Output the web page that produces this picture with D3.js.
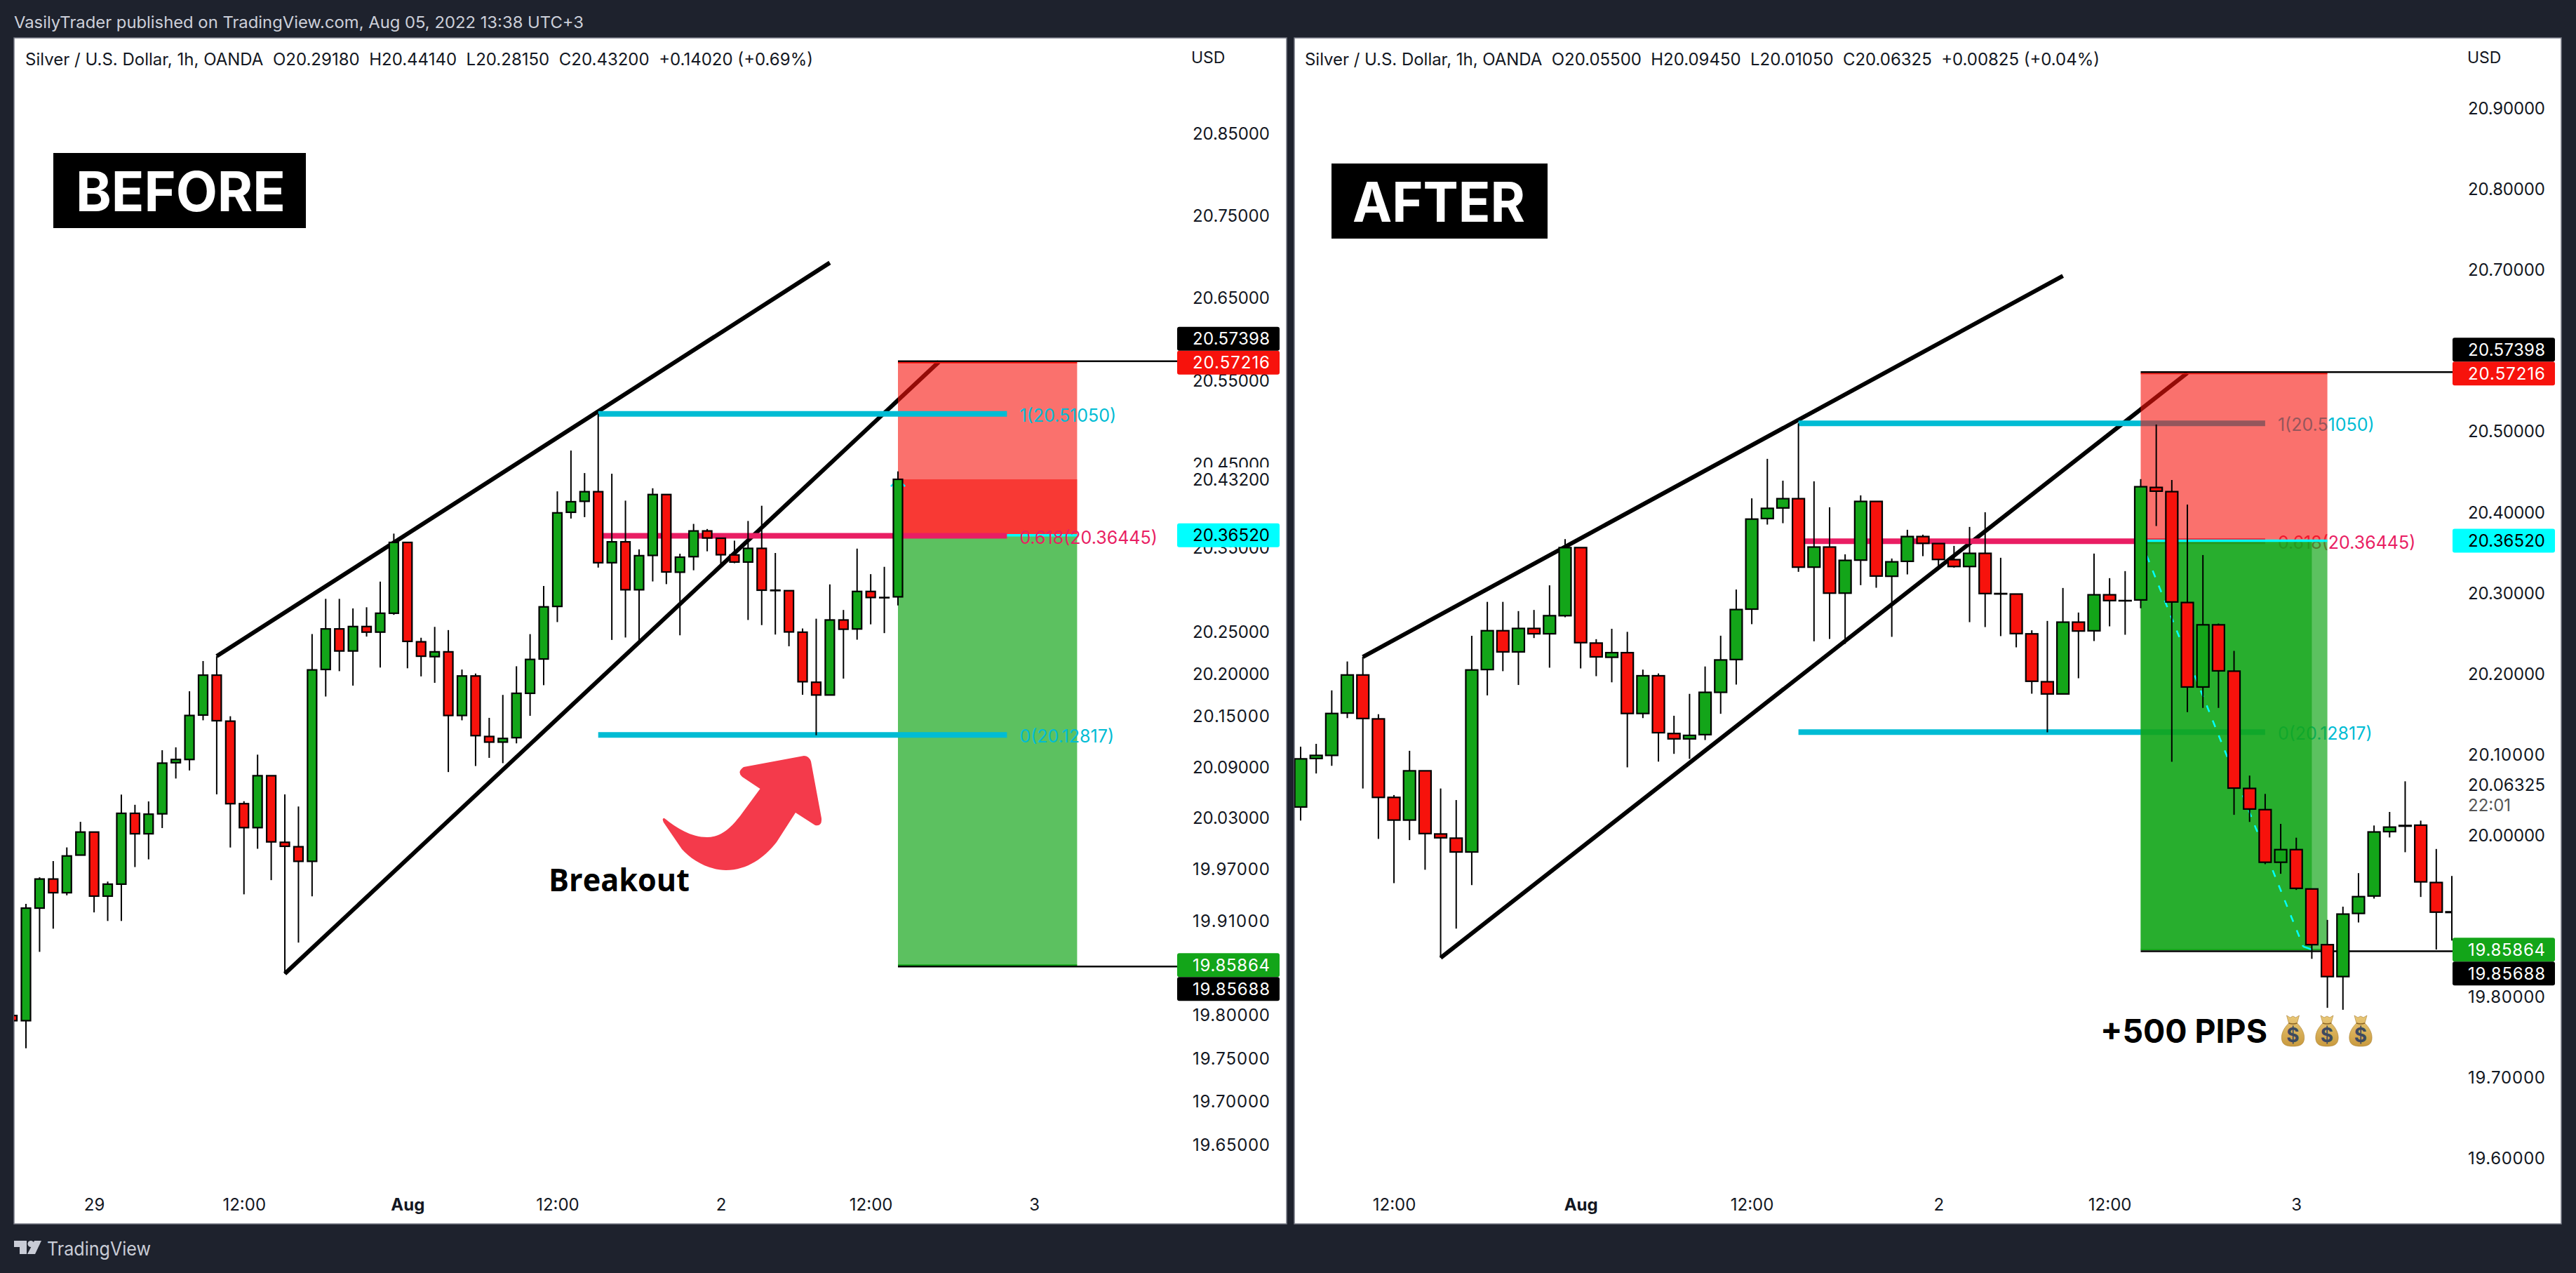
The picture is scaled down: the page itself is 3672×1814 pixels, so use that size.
<!DOCTYPE html>
<html><head><meta charset="utf-8">
<script src="https://cdn.jsdelivr.net/npm/d3@7/dist/d3.min.js"></script>
<style>
html,body{margin:0;padding:0;background:#1e222d}
svg{display:block}
text{font-family:Inter,Roboto,sans-serif}
</style></head><body><div id="chart"></div>
<script>
const firstBar = -1;
const opens = [19.80,
19.794,19.925,19.959,19.943,19.987,20.014,19.939,19.953,20.036,20.012,
20.0354,20.0955,20.0993,20.1517,20.1989,20.1445,20.0473,20.0192,20.0802,20.0020,
19.9968,19.9797,20.2056,20.2537,20.2275,20.2565,20.2499,20.2723,20.3566,20.2384,
20.2208,20.2265,20.1512,20.1979,20.1264,20.1198,20.1250,20.1774,20.2180,20.2804,
20.3926,20.4057,20.4172,20.3324,20.3573,20.3002,20.3411,20.4138,20.3211,20.3396,
20.3703,20.3616,20.3417,20.3332,20.3495,20.2997,20.2991,20.2498,20.1905,20.1754,
20.2643,20.2536,20.2982,20.2910,20.2918,20.4311,20.4259,20.2886,20.1840,20.2610,
20.2036,20.0584,20.0321,19.9670,19.9826,19.9339,19.8649,19.8254,19.9036,19.9252,
20.0049,20.0125,20.0129,19.9419,19.9056];
const closes = [19.794,
19.925,19.959,19.943,19.986,20.014,19.939,19.953,20.036,20.012,20.035,
20.0950,20.0993,20.1512,20.1989,20.1450,20.0473,20.0192,20.0802,20.0025,19.9973,
19.9797,20.2051,20.2537,20.2275,20.2565,20.2499,20.2723,20.3566,20.2389,20.2213,
20.2265,20.1512,20.1979,20.1274,20.1198,20.1241,20.1774,20.2175,20.2799,20.3919,
20.4052,20.4172,20.3324,20.3573,20.3002,20.3408,20.4138,20.3214,20.3390,20.3703,
20.3619,20.3419,20.3332,20.3495,20.2997,20.2992,20.2501,20.1911,20.1754,20.2643,
20.2533,20.2982,20.2910,20.2907,20.4320,20.4265,20.2893,20.1840,20.2610,20.2040,
20.0588,20.0329,19.9670,19.9826,19.9347,19.8649,19.8254,19.9028,19.9244,20.0045,
20.0105,20.0117,19.9427,19.9052,19.9048];
const highs = [19.802,
19.930,19.961,19.980,19.996,20.026,20.014,19.956,20.058,20.046,20.050,
20.1102,20.1136,20.1798,20.2156,20.2213,20.1503,20.0502,20.1050,20.0802,20.0583,
20.0440,20.2475,20.2894,20.2894,20.2780,20.2794,20.3099,20.3671,20.3566,20.2432,
20.2561,20.2523,20.2055,20.2008,20.1484,20.1755,20.2094,20.2475,20.3047,20.4176,
20.4665,20.4395,20.5105,20.4387,20.4065,20.3483,20.4213,20.4138,20.3431,20.3787,
20.3726,20.3616,20.3587,20.3822,20.4004,20.3440,20.2991,20.2542,20.2658,20.3066,
20.2762,20.3492,20.3188,20.3275,20.4414,20.5090,20.4404,20.4100,20.3474,20.2626,
20.2287,20.0743,20.0516,20.0145,19.9974,19.9339,19.8956,19.9120,19.9535,20.0125,
20.0293,20.0672,20.0185,19.9834,19.9499];
const lows = [19.79,
19.762,19.874,19.901,19.940,19.987,19.920,19.910,19.910,19.973,19.982,
20.0187,20.0769,20.0864,20.1455,20.0583,19.9959,19.9411,19.9944,19.9577,19.8486,
19.8848,19.9387,20.1736,20.2036,20.1865,20.2446,20.2079,20.2704,20.2070,20.1974,
20.1898,20.0845,20.1455,20.0916,20.1012,20.0950,20.1183,20.1508,20.1870,20.2618,
20.3851,20.3868,20.3266,20.2406,20.2435,20.2374,20.3101,20.3069,20.2461,20.3234,
20.3460,20.3295,20.3318,20.2643,20.2582,20.2470,20.2331,20.1757,20.1279,20.1754,
20.1948,20.2409,20.2591,20.2487,20.2815,20.3833,20.0915,20.1529,20.1581,20.1581,
20.0257,20.0169,19.9646,19.9527,19.9327,19.8474,19.7867,19.7843,19.8924,19.9220,
19.9977,19.9794,19.9240,19.8589,19.8700];

const leftPriceTicks = [20.85,20.75,20.65,20.55,20.45,20.35,20.25,20.20,20.15,20.09,20.03,19.97,19.91,19.80,19.75,19.70,19.65];
const rightPriceTicks = [20.90,20.80,20.70,20.50,20.40,20.30,20.20,20.10,20.00,19.80,19.70,19.60];
const leftTimeTicks = [5,16,28,39,51,62,74];
const leftTimeLabels = ["29","12:00","Aug","12:00","2","12:00","3"];
const rightTimeTicks = [16,28,39,51,62,74];
const rightTimeLabels = ["12:00","Aug","12:00","2","12:00","3"];

const fibLevels = [20.51050,20.36445,20.12817];
const fibLabels = ["1(20.51050)","0.618(20.36445)","0(20.12817)"];
const fibColors = ["#00bcd4","#e91e63","#00bcd4"];
const fibStartBar = 42, fibEndBar = 72;
const upperTrendBars = [14,59], upperTrendPrices = [20.2213,20.693];
const lowerTrendBars = [19,67], lowerTrendPrices = [19.8486,20.573];
const entryBar = 64, entryPrice = 20.3652, stopPrice = 20.57216, targetPrice = 19.85864;
const stopMark = 20.57398, targetMark = 19.85688, leftClose = 20.432, rightClose = 20.06325;
const leftBoxEnd = 77.15, rightBoxEnd = 76, rightFillEnd = 75;

const W=3672,H=1814;
const svg=d3.select("#chart").append("svg").attr("width",W).attr("height",H);
const bars=opens.map((o,i)=>({i:i+firstBar,o,h:highs[i],l:lows[i],c:closes[i]}));
const RED="#f7120c",GREEN="#13a519",INK="#131722";

svg.append("rect").attr("width",W).attr("height",H).attr("fill","#1e222d");
svg.append("text").attr("x",20).attr("y",40).attr("fill","#cdd0da").attr("font-size",23)
  .attr("textLength",812).attr("lengthAdjust","spacingAndGlyphs")
  .text("VasilyTrader published on TradingView.com, Aug 05, 2022 13:38 UTC+3");

function panel(cfg){
  const g=svg.append("g");
  const x=d3.scaleLinear().domain(cfg.xDomain).range(cfg.xRange);
  const y=cfg.y;
  g.append("rect").attr("x",cfg.left).attr("y",54).attr("width",cfg.right-cfg.left).attr("height",1690)
    .attr("fill","#fff").attr("stroke","#787b86").attr("stroke-width",1.5);
  const id="clip"+cfg.name;
  svg.append("clipPath").attr("id",id).append("rect").attr("x",cfg.left).attr("y",55).attr("width",cfg.plotRight-cfg.left).attr("height",1688);
  const plot=g.append("g").attr("clip-path",`url(#${id})`);

  const seg=(bs,ps,w)=>plot.append("line").attr("x1",x(bs[0])).attr("x2",x(bs[1])).attr("y1",y(ps[0])).attr("y2",y(ps[1]))
    .attr("stroke","#000").attr("stroke-width",w).attr("stroke-linecap","butt");
  seg(upperTrendBars,upperTrendPrices,6);
  seg(lowerTrendBars,lowerTrendPrices,6);

  const drawFib=()=>{
    plot.selectAll(null).data(fibLevels).join("line")
      .attr("x1",x(fibStartBar)).attr("x2",x(fibEndBar)).attr("y1",d=>y(d)).attr("y2",d=>y(d))
      .attr("stroke",(d,i)=>fibColors[i]).attr("stroke-width",8);
    plot.selectAll(null).data(fibLevels).join("text")
      .attr("x",x(fibEndBar)+18).attr("y",d=>y(d)+2).attr("dy","0.36em").attr("font-size",25)
      .attr("fill",(d,i)=>fibColors[i]).text((d,i)=>fibLabels[i]);
  };
  const band=(b0,b1,p0,p1,color,a)=>plot.append("rect").attr("x",x(b0)).attr("width",x(b1)-x(b0))
    .attr("y",y(p0)).attr("height",y(p1)-y(p0)).attr("fill",color).attr("fill-opacity",a);
  const drawBox=()=>{
    band(entryBar,cfg.boxEnd,stopPrice,entryPrice,RED,0.6);
    band(entryBar,cfg.boxEnd,entryPrice,targetPrice,GREEN,0.69);
    if(cfg.overlay) cfg.overlay(band);
    [stopPrice,targetPrice].forEach((p,i)=>plot.append("line").attr("x1",x(entryBar)).attr("x2",x(cfg.boxEnd))
      .attr("y1",y(p)).attr("y2",y(p)).attr("stroke",i?GREEN:RED).attr("stroke-width",2));
  };
  const drawEntry=()=>plot.append("line").attr("x1",x(entryBar)).attr("x2",x(cfg.boxEnd))
      .attr("y1",y(entryPrice)).attr("y2",y(entryPrice)).attr("stroke","#00ffff").attr("stroke-width",3.5);

  if(cfg.fibFirst){drawFib();drawBox();drawEntry();}
  else{drawBox();drawEntry();drawFib();}
  if(cfg.after) cfg.after(plot,x,y);

  [stopMark,targetMark].forEach(p=>plot.append("line").attr("x1",x(entryBar)).attr("x2",cfg.plotRight)
    .attr("y1",y(p)).attr("y2",y(p)).attr("stroke","#000").attr("stroke-width",2.5));

  const c=plot.selectAll(null).data(bars.filter(d=>d.i>=cfg.xFirst&&d.i<=cfg.xLast)).join("g");
  c.append("line").attr("x1",d=>x(d.i)).attr("x2",d=>x(d.i)).attr("y1",d=>y(d.h)).attr("y2",d=>y(d.l))
    .attr("stroke","#000").attr("stroke-width",2);
  c.append("rect").attr("x",d=>x(d.i)-cfg.bw/2).attr("width",cfg.bw)
    .attr("y",d=>y(Math.max(d.o,d.c))).attr("height",d=>Math.abs(y(d.o)-y(d.c)))
    .attr("fill",d=>d.c>=d.o?GREEN:RED).attr("stroke","#000").attr("stroke-width",2.2);

  // axes
  const ay=g.append("g").attr("transform",`translate(${cfg.textRight},0)`)
    .call(d3.axisRight(y).tickValues(cfg.priceTicks).tickFormat(d3.format(".5f")).tickSize(0).tickPadding(0));
  ay.select(".domain").remove();
  ay.selectAll("text").attr("text-anchor","end").attr("font-size",24).attr("font-family","Inter").attr("fill",INK)
    .attr("textLength",110).attr("lengthAdjust","spacing");
  const ax=g.append("g").attr("transform","translate(0,1708)")
    .call(d3.axisBottom(x).tickValues(cfg.timeTicks).tickFormat((d,i)=>cfg.timeLabels[i]).tickSize(0).tickPadding(0));
  ax.select(".domain").remove();
  ax.selectAll("text").attr("font-size",24).attr("font-family","Inter").attr("fill",INK)
    .attr("font-weight",d=>d===28?700:400);

  g.append("text").attr("x",cfg.usdX).attr("y",90).attr("font-size",23).attr("fill",INK).text("USD");
  g.append("text").attr("x",cfg.legendX).attr("y",93).attr("font-size",24).attr("fill",INK)
    .attr("textLength",cfg.legendW).attr("lengthAdjust","spacing").attr("xml:space","preserve").style("white-space","pre").text(cfg.legend);

  const label=(p,text,bg,fg,cy)=>{
    const yc=cy===undefined?y(p):cy;
    g.append("rect").attr("x",cfg.textRight-132).attr("width",146).attr("y",yc-17).attr("height",34).attr("fill",bg).attr("rx",3);
    g.append("text").attr("x",cfg.textRight).attr("y",yc).attr("dy","0.36em").attr("text-anchor","end").attr("font-size",24)
      .attr("fill",fg).attr("textLength",110).text(text);
  };
  label(entryPrice,"20.36520","#00ffff","#000");
  label(stopPrice,"20.57216",RED,"#fff");
  label(stopPrice,"20.57398","#000","#fff",y(stopPrice)-34);
  label(targetPrice,"19.85864",GREEN,"#fff");
  label(targetPrice,"19.85688","#000","#fff",y(targetPrice)+34);
  if(cfg.labels) cfg.labels(g,y,label);
  return g;
}

const yLeft=d3.scaleLog().domain([19.65,20.55]).range([1632,543]);
const yRight=d3.scaleLinear().domain([19.60,20.90]).range([1651,155]);

panel({name:"L",left:20,right:1834,plotRight:1678,textRight:1810,usdX:1698,
  xDomain:[0,64],xRange:[37,1280],xFirst:-1,xLast:entryBar,y:yLeft,bw:13,boxEnd:leftBoxEnd,fibFirst:false,
  priceTicks:leftPriceTicks,timeTicks:leftTimeTicks,timeLabels:leftTimeLabels,
  legendX:36,legendW:1123,
  legend:"Silver / U.S. Dollar, 1h, OANDA  O20.29180  H20.44140  L20.28150  C20.43200  +0.14020 (+0.69%)",
  overlay:band=>band(entryBar,leftBoxEnd,leftClose,entryPrice,RED,0.58),
  after:(plot,x,y)=>{
    plot.append("polyline").attr("fill","none").attr("stroke","#00ffff").attr("stroke-width",2.5)
      .attr("points",[[entryBar-0.52,leftClose-0.0085],[entryBar,leftClose],[entryBar+0.52,leftClose-0.0085]].map(d=>[x(d[0]),y(d[1])].join(",")).join(" "));
  },
  labels:(g,y,label)=>label(leftClose,"20.43200","#fff",INK)
});

panel({name:"R",left:1845,right:3651,plotRight:3496,textRight:3628,usdX:3517,
  xDomain:[10,84],xRange:[1854,3495],xFirst:10,xLast:84,y:yRight,bw:17,boxEnd:rightBoxEnd,fibFirst:true,
  priceTicks:rightPriceTicks,timeTicks:rightTimeTicks,timeLabels:rightTimeLabels,
  legendX:1860,legendW:1133,
  legend:"Silver / U.S. Dollar, 1h, OANDA  O20.05500  H20.09450  L20.01050  C20.06325  +0.00825 (+0.04%)",
  overlay:band=>band(entryBar,rightFillEnd,entryPrice,targetPrice,GREEN,0.7),
  after:(plot,x,y)=>{
    plot.append("line").attr("x1",x(entryBar)).attr("x2",x(rightFillEnd-0.55)).attr("y1",y(entryPrice)).attr("y2",y(19.8625))
      .attr("stroke","#00ffff").attr("stroke-width",2.5).attr("stroke-dasharray","10 13");
    plot.append("line").attr("x1",x(rightFillEnd-0.55)).attr("x2",x(rightFillEnd)).attr("y1",y(19.8625)).attr("y2",y(19.859))
      .attr("stroke","#00ffff").attr("stroke-width",2.5);
  },
  labels:(g,y)=>{
    const yc=y(rightClose);
    g.append("rect").attr("x",3496).attr("width",146).attr("y",yc-16).attr("height",60).attr("fill","#fff");
    g.append("text").attr("x",3628).attr("y",yc).attr("dy","0.36em").attr("text-anchor","end").attr("font-size",24).attr("fill",INK).attr("textLength",110).text("20.06325");
    g.append("text").attr("x",3518).attr("y",yc+29).attr("dy","0.36em").attr("font-size",24).attr("fill","#555").text("22:01");
  }
});

// tags
svg.append("rect").attr("x",76).attr("y",218).attr("width",360).attr("height",107).attr("fill","#000");
svg.append("text").attr("x",108).attr("y",301).attr("font-size",78).attr("font-weight",700).attr("fill","#fff")
  .attr("textLength",299).attr("lengthAdjust","spacingAndGlyphs").text("BEFORE");
svg.append("rect").attr("x",1898).attr("y",233).attr("width",308).attr("height",107).attr("fill","#000");
svg.append("text").attr("x",1928).attr("y",316).attr("font-size",78).attr("font-weight",700).attr("fill","#fff")
  .attr("textLength",246).attr("lengthAdjust","spacingAndGlyphs").text("AFTER");

// arrow
svg.append("path").attr("fill","#f43a4b").attr("d",
 "M947,1166 C965,1180 985,1193 1008,1193 C1030,1193 1045,1176 1057,1160 L1083.5,1124 L1058,1107 "+
 "Q1050,1100 1060,1093 L1146,1077 Q1153,1077 1156,1085 L1171,1166 Q1172,1178 1162,1176 L1134,1158 "+
 "L1107,1200 C1090,1222 1065,1240 1035,1240 C1010,1240 985,1225 972,1210 L946,1172 Q943,1165 947,1166 Z");
svg.append("text").attr("x",782).attr("y",1270).attr("font-size",45).style("font-family","'Open Sans'").attr("font-weight",700)
  .attr("fill","#000").attr("textLength",201).attr("lengthAdjust","spacingAndGlyphs").text("Breakout");

// +500 PIPS with money bags
svg.append("text").attr("x",2994).attr("y",1486).attr("font-size",46).attr("font-weight",700).attr("fill","#000")
  .attr("textLength",238).attr("lengthAdjust","spacingAndGlyphs").text("+500 PIPS");
const bagGrad=svg.append("defs").append("linearGradient").attr("id","bag").attr("x1",0).attr("x2",0).attr("y1",0).attr("y2",1);
bagGrad.append("stop").attr("offset",0).attr("stop-color","#e9c878");
bagGrad.append("stop").attr("offset",1).attr("stop-color","#c99a3e");
const bagX=[3251.5,3300,3348];
const bag=svg.selectAll(null).data(bagX).join("g").attr("transform",d=>`translate(${d},1447)`);
bag.append("path").attr("fill","url(#bag)").attr("stroke","#a87e30").attr("stroke-width",0.6).attr("d",
 "M8,0 L13,3 L17,1 L21,3 L26,0 L23,11 C30,18 34,26 33,34 C32,42 26,44 17,44 C8,44 2,42 1,34 C0,26 4,18 11,11 Z");
bag.append("path").attr("fill","none").attr("stroke","#8a6424").attr("stroke-width",1.5).attr("d","M11,11 Q17,13 23,11");
bag.append("text").attr("x",17).attr("y",38).attr("text-anchor","middle").attr("font-size",28).attr("font-weight",700).attr("fill","#3d4a60").text("$");

// footer logo
const logo=svg.append("g").attr("fill","#c9ccd6");
logo.append("path").attr("d","M20,1768 H38 V1787 H28 V1777 H20 Z");
logo.append("circle").attr("cx",44).attr("cy",1772.5).attr("r",4.5);
logo.append("path").attr("d","M49,1768 H59 L50,1787 H39 Z");
svg.append("text").attr("x",67).attr("y",1789).attr("font-size",27).attr("fill","#c9ccd6").attr("textLength",148).attr("lengthAdjust","spacingAndGlyphs").text("TradingView");
</script></body></html>
